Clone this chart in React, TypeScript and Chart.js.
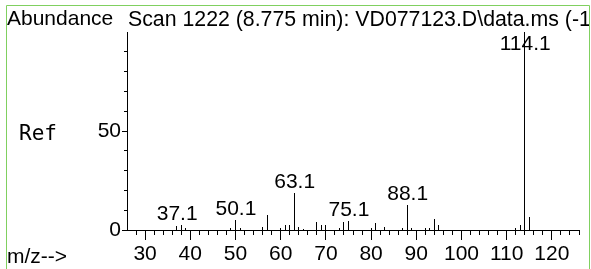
import React, { useEffect, useRef } from 'react';
import { Chart, registerables } from 'chart.js';

Chart.register(...registerables);

// ---- data ----
const mzValues = [37, 38, 39, 49, 50, 51, 56, 57, 60, 61, 62, 63, 64, 65, 68, 69, 70, 73, 74, 75, 80, 81, 83, 87, 88, 89, 92, 93, 94, 95, 112, 113, 114, 115];
const abundances = [2, 2.5, 1, 0.8, 5, 1, 1.7, 7.7, 1, 2.7, 2.7, 18.5, 1.7, 0.6, 3.9, 2.7, 2.7, 1, 3.9, 4.7, 1, 3.7, 1.7, 1, 12.8, 1, 1, 1, 5.7, 2.7, 1, 2.7, 100, 6.7];
const peakLabels = ['37.1', '50.1', '63.1', '75.1', '88.1', '114.1'];
const xTickValues = [30, 40, 50, 60, 70, 80, 90, 100, 110, 120];
const xMinorTickValues = [28, 32, 34, 36, 38, 42, 44, 46, 48, 52, 54, 56, 58, 62, 64, 66, 68, 72, 74, 76, 78, 82, 84, 86, 88, 92, 94, 96, 98, 102, 104, 106, 108, 112, 114, 116, 118, 122, 124, 126];
const yTickValues = [0, 50];
const yMinorTickValues = [10, 20, 30, 40, 60, 70, 80, 90];
const titleText = 'Scan 1222 (8.775 min): VD077123.D\\data.ms (-1';
const yAxisTitle = 'Abundance';
const xAxisTitle = 'm/z-->';
const sideNote = 'Ref';

const FONT = '"Liberation Sans", Arial, sans-serif';
const FS = 21;

const decorPlugin = {
  id: 'decor',
  afterDatasetsDraw(chart: any) {
    const ctx = chart.ctx;
    const meta = chart.getDatasetMeta(0);
    ctx.save();
    ctx.strokeStyle = '#000';
    ctx.lineWidth = 1;
    meta.data.forEach((el: any) => {
      const x = Math.floor(el.x) + 0.5;
      ctx.beginPath();
      ctx.moveTo(x, Math.round(el.y));
      ctx.lineTo(x, Math.round(el.base));
      ctx.stroke();
    });
    ctx.restore();
  },
  afterDraw(chart: any) {
    const ctx = chart.ctx;
    const xs = chart.scales.x;
    const ys = chart.scales.y;
    const area = chart.chartArea;
    ctx.save();
    ctx.strokeStyle = '#000';
    ctx.lineWidth = 1;
    // minor ticks x
    xMinorTickValues.forEach((v) => {
      const x = Math.floor(xs.getPixelForValue(v)) + 0.5;
      ctx.beginPath();
      ctx.moveTo(x, area.bottom);
      ctx.lineTo(x, area.bottom + 5);
      ctx.stroke();
    });
    // minor ticks y
    yMinorTickValues.forEach((v) => {
      const y = Math.floor(ys.getPixelForValue(v)) + 0.5;
      ctx.beginPath();
      ctx.moveTo(area.left - 3, y);
      ctx.lineTo(area.left, y);
      ctx.stroke();
    });

    // peak labels
    ctx.fillStyle = '#000';
    ctx.font = `${FS}px ${FONT}`;
    ctx.textAlign = 'center';
    ctx.textBaseline = 'alphabetic';
    peakLabels.forEach((lab) => {
      const m = parseFloat(lab);
      let top = 0;
      mzValues.forEach((mz, i) => {
        if (Math.abs(mz - m) <= 1.5) top = Math.max(top, abundances[i]);
      });
      const x = xs.getPixelForValue(m);
      let y = ys.getPixelForValue(top) - 5;
      y = Math.max(y, area.top + 18);
      ctx.fillText(lab, x, y);
    });

    // texts
    ctx.textAlign = 'left';
    ctx.fillText(yAxisTitle, 7, 25);
    ctx.save();
    ctx.beginPath();
    ctx.rect(0, 0, 589, 269);
    ctx.clip();
    ctx.font = `21.3px ${FONT}`;
    ctx.fillText(titleText, 128, 26);
    ctx.restore();
    ctx.fillText(xAxisTitle, 7, 263);
    ctx.font = `21px "DejaVu Sans Mono", monospace`;
    ctx.fillText(sideNote, 19, 140);

    // green frame
    ctx.strokeStyle = '#80d060';
    ctx.lineWidth = 1;
    ctx.beginPath();
    ctx.moveTo(6.5, 269);
    ctx.lineTo(6.5, 5.5);
    ctx.lineTo(589.5, 5.5);
    ctx.lineTo(589.5, 269);
    ctx.stroke();
    ctx.restore();
  },
};

export default function App() {
  const ref = useRef<HTMLCanvasElement>(null);
  useEffect(() => {
    if (!ref.current) return;
    const chart = new Chart(ref.current, {
      type: 'bar',
      data: {
        datasets: [
          {
            data: mzValues.map((x, i) => ({ x, y: abundances[i] })),
            backgroundColor: 'rgba(0,0,0,0)',
            borderWidth: 0,
            barThickness: 1,
            grouped: false,
          } as any,
        ],
      },
      options: {
        animation: false,
        responsive: false,
        devicePixelRatio: 1,
        events: [],
        layout: { padding: { left: 0, top: 32, right: 12, bottom: 0 } },
        plugins: { legend: { display: false }, tooltip: { enabled: false }, title: { display: false } },
        scales: {
          x: {
            type: 'linear',
            min: 26,
            max: 126,
            offset: false,
            position: 'bottom',
            afterBuildTicks: (s: any) => {
              s.ticks = xTickValues.map((v) => ({ value: v }));
            },
            afterFit: (s: any) => {
              s.height = 39;
            },
            grid: { offset: false, drawOnChartArea: false, drawTicks: true, tickLength: 10, color: '#000', lineWidth: 1 },
            border: { display: true, color: '#000', width: 1 },
            ticks: {
              color: '#000',
              font: { family: FONT, size: FS },
              padding: 2,
              maxRotation: 0,
              autoSkip: false,
              callback: (v: any) => String(v),
            },
          },
          y: {
            type: 'linear',
            min: 0,
            max: 100,
            afterBuildTicks: (s: any) => {
              s.ticks = yTickValues.map((v) => ({ value: v }));
            },
            afterFit: (s: any) => {
              s.width = 127;
            },
            grid: { drawOnChartArea: false, drawTicks: true, tickLength: 5, color: '#000', lineWidth: 1 },
            border: { display: true, color: '#000', width: 1 },
            ticks: {
              color: '#000',
              font: { family: FONT, size: FS },
              padding: 1,
              autoSkip: false,
              callback: (v: any) => String(v),
            },
          },
        },
      } as any,
      plugins: [decorPlugin],
    });
    return () => chart.destroy();
  }, []);
  return (
    <div style={{ position: 'fixed', left: 0, top: 0, width: 591, height: 269, background: '#fff' }}>
      <canvas ref={ref} width={591} height={269} style={{ display: 'block', width: 591, height: 269 }} />
    </div>
  );
}
